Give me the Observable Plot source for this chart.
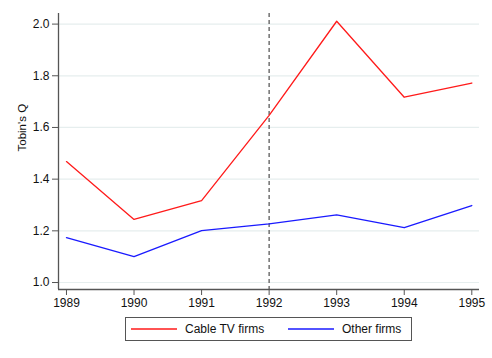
<!DOCTYPE html>
<html>
<head>
<meta charset="utf-8">
<script src="https://cdn.jsdelivr.net/npm/d3@7"></script>
<script src="https://cdn.jsdelivr.net/npm/@observablehq/plot@0.6"></script>
<style>
  html, body { margin: 0; padding: 0; background: #fff; }
  #wrap { position: relative; width: 492px; height: 358px; font-family: "Liberation Sans", Arial, Helvetica, sans-serif; }
  #legend { position: absolute; left: 125px; top: 317px; width: 287px; height: 24px; border: 1px solid #555; box-sizing: border-box; font-size: 12px; color: #111; }
  .sw { position: absolute; top: 9px; width: 46px; height: 4px; display: block; }
  .lab { position: absolute; top: 0; height: 22px; line-height: 22px; white-space: nowrap; }
</style>
</head>
<body>
<div id="wrap">
  <div id="chart"></div>
  <div id="legend"></div>
</div>
<script>
const years = [1989, 1990, 1991, 1992, 1993, 1994, 1995];
const cableTV = [1.468, 1.244, 1.317, 1.647, 2.011, 1.717, 1.772];
const otherFirms = [1.174, 1.100, 1.201, 1.227, 1.262, 1.212, 1.298];
const seriesNames = ["Cable TV firms", "Other firms"];
const seriesColors = ["#ff1a1a", "#1a1aff"];
const yTicks = [1.0, 1.2, 1.4, 1.6, 1.8, 2.0];
const eventYear = 1992;
const yLabel = "Tobin's Q";

const rows = [];
years.forEach((yr, i) => {
  rows.push({year: yr, value: cableTV[i], series: seriesNames[0]});
  rows.push({year: yr, value: otherFirms[i], series: seriesNames[1]});
});

const xDom = [1988.882, 1995.114];
const yDom = [0.973, 2.041];

const chart = Plot.plot({
  width: 492,
  height: 310,
  marginTop: 13,
  marginBottom: 21,
  marginLeft: 58,
  marginRight: 13,
  style: {fontFamily: "Liberation Sans, Arial, sans-serif", fontSize: "12px", color: "#111", background: "#fff"},
  x: {domain: xDom, label: null},
  y: {domain: yDom, label: null},
  color: {domain: seriesNames, range: seriesColors},
  marks: [
    Plot.ruleY(yTicks, {stroke: "#e6eeee", strokeWidth: 1.2}),
    Plot.ruleX([eventYear], {stroke: "#666", strokeDasharray: "4,3", strokeWidth: 1.4}),
    Plot.line(rows, {x: "year", y: "value", z: "series", stroke: "series", strokeWidth: 1.3}),
    Plot.ruleX([xDom[0]], {stroke: "#555", strokeWidth: 1.3}),
    Plot.ruleY([yDom[0]], {stroke: "#555", strokeWidth: 1.3}),
    Plot.axisX({ticks: years, tickFormat: d => String(d), tickSize: 6, tickPadding: 3, label: null, stroke: "#555", fontSize: 12}),
    Plot.axisY({ticks: yTicks, tickFormat: d => d.toFixed(1), tickSize: 6, tickPadding: 3, label: null, stroke: "#555", fontSize: 12}),
    Plot.text([yLabel], {frameAnchor: "left", dx: -36, rotate: -90, fontSize: 11.5, fill: "#111"})
  ]
});
document.getElementById("chart").appendChild(chart);

const NS = "http://www.w3.org/2000/svg";
const legend = document.getElementById("legend");
const swLeft = [5, 162];
const labLeft = [59, 216];
seriesNames.forEach((name, i) => {
  const svg = document.createElementNS(NS, "svg");
  svg.setAttribute("class", "sw");
  svg.setAttribute("width", "46");
  svg.setAttribute("height", "4");
  svg.style.left = swLeft[i] + "px";
  const ln = document.createElementNS(NS, "line");
  ln.setAttribute("x1", "0"); ln.setAttribute("x2", "46");
  ln.setAttribute("y1", "2"); ln.setAttribute("y2", "2");
  ln.setAttribute("stroke", seriesColors[i]);
  ln.setAttribute("stroke-width", "1.4");
  svg.appendChild(ln);
  legend.appendChild(svg);
  const lab = document.createElement("div");
  lab.className = "lab";
  lab.style.left = labLeft[i] + "px";
  lab.textContent = name;
  legend.appendChild(lab);
});
</script>
</body>
</html>
